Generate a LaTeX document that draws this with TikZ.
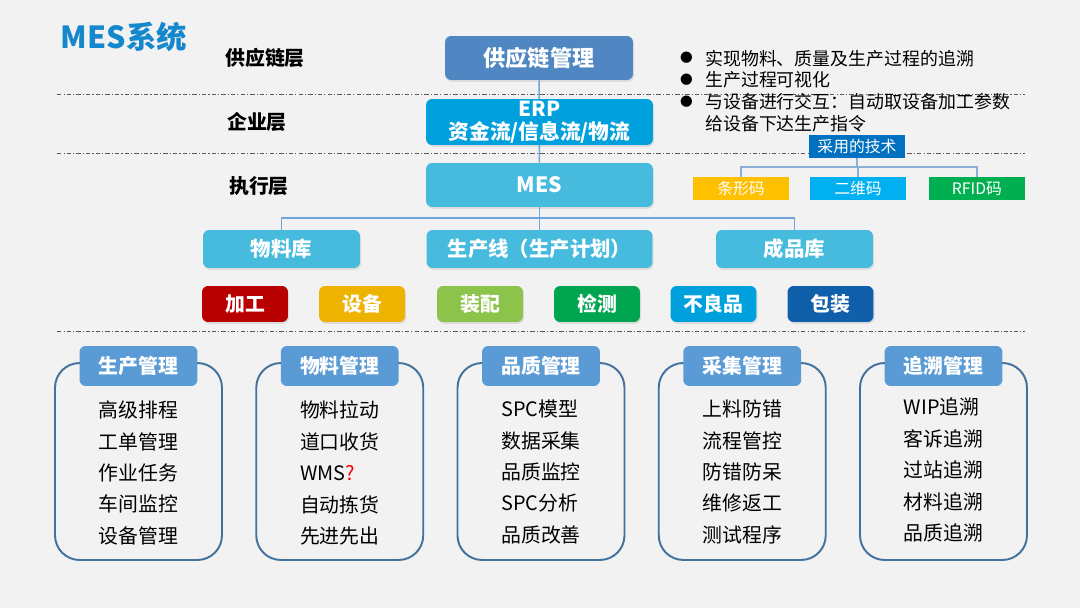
\documentclass[tikz,border=0pt]{standalone}
\usepackage{fontspec}
\setmainfont{Noto Sans CJK SC}
\usetikzlibrary{backgrounds,shadows}
\newcommand{\bulletmark}{\makebox[1.56em][l]{\hspace{1.6pt}\raisebox{1.2pt}{\fontsize{7.2}{7.2}\selectfont ●}}}

\begin{document}
\begin{tikzpicture}[%
x=0.02cm, y=-0.02cm,
layer/.style={font=\fontsize{11.3}{13}\selectfont\bfseries},
sepline/.style={color={rgb,255:red,90;green,90;blue,90}, line width=0.5pt, dash pattern=on 2.5pt off 1.2pt on 0.6pt off 1.2pt},
treeline/.style={color={rgb,255:red,110;green,165;blue,220}, line width=0.8pt},
techline/.style={color={rgb,255:red,140;green,175;blue,215}, line width=0.6pt},
sysbox/.style={rounded corners=3.5pt, inner sep=0pt, text=white, align=center, font=\fontsize{12}{13}\selectfont\bfseries, drop shadow={shadow xshift=0.6pt, shadow yshift=-1pt, opacity=0.2}},
stepcell/.style={sysbox, minimum width=1.72cm, minimum height=0.72cm, font=\fontsize{11.3}{13}\selectfont\bfseries},
techbox/.style={inner sep=0pt, minimum width=1.92cm, minimum height=0.46cm, text=white, font=\fontsize{9}{10}\selectfont},
panel/.style={draw={rgb,255:red,65;green,113;blue,156}, line width=1.1pt, rounded corners=14pt, minimum width=3.34cm, minimum height=3.94cm, inner sep=0pt},
panelhead/.style={fill={rgb,255:red,91;green,155;blue,213}, rounded corners=3.5pt, minimum width=2.36cm, minimum height=0.8cm, inner sep=0pt, text=white, font=\fontsize{11.3}{13}\selectfont\bfseries},
panelitems/.style={align=left, inner sep=0pt, font=\fontsize{11.3}{17.9}\selectfont},
]
\useasboundingbox (0,0) rectangle (1080,608);
\begin{pgfonlayer}{background}
\fill [color={rgb,255:red,242;green,242;blue,242}] (0,0) rectangle (1080,608);
\end{pgfonlayer}
%% separators;
\draw [sepline] (57,94) -- (1025,94);
\draw [sepline] (57,153) -- (1025,153);
\draw [sepline] (57,331) -- (1025,331);
%% title;
\node [font=\fontsize{17.3}{20}\selectfont\bfseries, text={rgb,255:red,20;green,135;blue,205}] (title) at (124,37) {MES系统};
%% layers;
\node [layer] (supplylayer) at (265,58) {供应链层};
\node [layer] (enterlayer) at (257,122) {企业层};
\node [layer] (execlayer) at (259,186) {执行层};
%% systems;
\node [sysbox, fill={rgb,255:red,80;green,135;blue,195}, minimum width=3.76cm, minimum height=0.88cm, font=\fontsize{12.6}{14}\selectfont\bfseries] (scm) at (539,58) {供应链管理};
\node [sysbox, fill={rgb,255:red,0;green,160;blue,220}, minimum width=4.54cm, minimum height=0.92cm, font=\fontsize{11.8}{13.1}\selectfont\bfseries] (erp) at (539.5,122) {ERP\\资金流/信息流/物流};
\node [sysbox, fill={rgb,255:red,70;green,187;blue,222}, minimum width=4.54cm, minimum height=0.88cm] (mes) at (539.5,185) {MES};
%% plant;
\node [sysbox, fill={rgb,255:red,70;green,187;blue,222}, minimum width=3.14cm, minimum height=0.76cm, font=\fontsize{11.6}{13}\selectfont\bfseries] (rawstore) at (281.5,249) {物料库};
\node [sysbox, fill={rgb,255:red,70;green,187;blue,222}, minimum width=4.52cm, minimum height=0.76cm, font=\fontsize{11.6}{13}\selectfont\bfseries] (prodline) at (539.5,249) {生产线（生产计划）};
\node [sysbox, fill={rgb,255:red,70;green,187;blue,222}, minimum width=3.14cm, minimum height=0.76cm, font=\fontsize{11.6}{13}\selectfont\bfseries] (finstore) at (794.5,249) {成品库};
\coordinate (hub) at (539.5,218);
%% cells;
\node [stepcell, fill={rgb,255:red,185;green,0;blue,0}] (machining) at (245,304) {加工};
\node [stepcell, fill={rgb,255:red,238;green,178;blue,0}] (equipment) at (362,304) {设备};
\node [stepcell, fill={rgb,255:red,140;green,195;blue,75}] (assembly) at (480,304) {装配};
\node [stepcell, fill={rgb,255:red,0;green,165;blue,80}] (inspection) at (597,304) {检测};
\node [stepcell, fill={rgb,255:red,0;green,160;blue,220}] (defects) at (713.5,304) {不良品};
\node [stepcell, fill={rgb,255:red,15;green,95;blue,170}] (packing) at (830.5,304) {包装};
%% goals;
\node [anchor=north west, align=left, inner sep=0pt, font=\fontsize{10.2}{12.5}\selectfont] (goals) at (677,49.5) {\bulletmark 实现物料、质量及生产过程的追溯\\\bulletmark 生产过程可视化\\\bulletmark 与设备进行交互：自动取设备加工参数\\\hspace*{1.56em}给设备下达生产指令};
%% technology;
\node [techbox, fill={rgb,255:red,0;green,112;blue,192}] (tech) at (857,146.5) {采用的技术};
\node [techbox, fill={rgb,255:red,255;green,192;blue,0}] (barcode) at (741,188.5) {条形码};
\node [techbox, fill={rgb,255:red,0;green,176;blue,240}] (qrcode) at (858,188.5) {二维码};
\node [techbox, fill={rgb,255:red,0;green,176;blue,80}] (rfid) at (977,188.5) {RFID码};
\coordinate (techhub) at (857,167);
\draw [techline] (tech) -- (techhub);
\draw [techline] (techhub) -| (barcode.north);
\draw [techline] (techhub) -| (qrcode.north);
\draw [techline] (techhub) -| (rfid.north);
%% panels;
\node [panel] (prodpanel) at (138.5,461.5) {};
\node [panelhead] (prodhead) at (138.5,366) {生产管理};
\node [panelitems] (prodlist) at (138.5,473) {高级排程\\工单管理\\作业任务\\车间监控\\设备管理};
\node [panel] (matpanel) at (339.75,461.5) {};
\node [panelhead] (mathead) at (339.75,366) {物料管理};
\node [panelitems] (matlist) at (339.75,473) {物料拉动\\道口收货\\WMS{\color{red}?}\\自动拣货\\先进先出};
\node [panel] (qualpanel) at (541,461.5) {};
\node [panelhead] (qualhead) at (541,366) {品质管理};
\node [panelitems] (quallist) at (541,472) {SPC模型\\数据采集\\品质监控\\SPC分析\\品质改善};
\node [panel] (collpanel) at (742.25,461.5) {};
\node [panelhead] (collhead) at (742.25,366) {采集管理};
\node [panelitems] (colllist) at (742.25,472) {上料防错\\流程管控\\防错防呆\\维修返工\\测试程序};
\node [panel] (tracepanel) at (943.5,461.5) {};
\node [panelhead] (tracehead) at (943.5,366) {追溯管理};
\node [panelitems] (tracelist) at (943.5,470) {WIP追溯\\客诉追溯\\过站追溯\\材料追溯\\品质追溯};
%% tree;
\begin{pgfonlayer}{background}
\draw [treeline] (scm) -- (mes);
\draw [treeline] (mes) -- (hub);
\draw [treeline] (hub) -| (rawstore.north);
\draw [treeline] (hub) -- (prodline.north);
\draw [treeline] (hub) -| (finstore.north);
\end{pgfonlayer}
\end{tikzpicture}
\end{document}
